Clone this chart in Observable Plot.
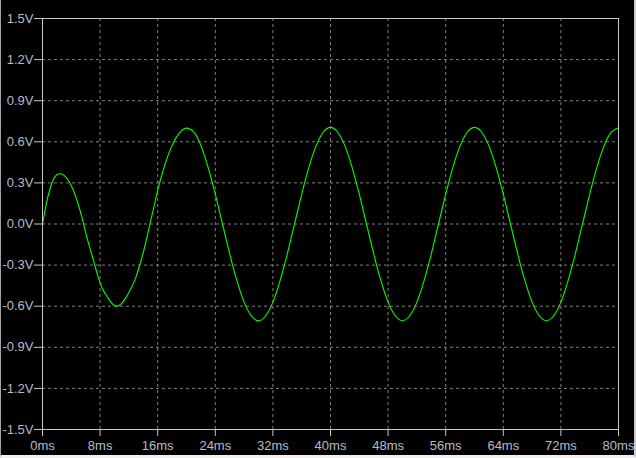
<!DOCTYPE html>
<html>
<head>
<meta charset="utf-8">
<script src="https://cdn.jsdelivr.net/npm/d3@7"></script>
<script src="https://cdn.jsdelivr.net/npm/@observablehq/plot@0.6"></script>
<style>
  html, body { margin: 0; padding: 0; background: #000; }
  #wrap { position: relative; width: 636px; height: 458px; overflow: hidden; }
  #edge { position: absolute; left: 0; top: 0; width: 636px; height: 458px; box-sizing: border-box;
          border-left: 1px solid #a0a0a0; border-right: 2px solid #c8c8c8; border-bottom: 3px solid #f0f0f0;
          pointer-events: none; }
</style>
</head>
<body>
<div id="wrap"><div id="edge"></div></div>
<script>
// time in ms
const timeMs = [0, 0.5, 1, 1.5, 2, 2.5, 3, 3.5, 4, 4.5, 5, 5.5, 6, 6.5, 7, 7.5, 8, 8.5, 9, 9.5, 10, 10.5, 11, 11.5, 12, 12.5, 13, 13.5, 14, 14.5, 15, 15.5, 16, 16.5, 17, 17.5, 18, 18.5, 19, 19.5, 20,
  21, 22, 23, 24, 25, 26, 27, 28, 29, 30, 31, 32, 33, 34, 35, 36, 37, 38, 39, 40,
  41, 42, 43, 44, 45, 46, 47, 48, 49, 50, 51, 52, 53, 54, 55, 56, 57, 58, 59, 60,
  61, 62, 63, 64, 65, 66, 67, 68, 69, 70, 71, 72, 73, 74, 75, 76, 77, 78, 79, 80];
// voltage in V
const volts = [0, 0.14, 0.25, 0.325, 0.36, 0.367, 0.355, 0.325, 0.28, 0.217, 0.137, 0.045, -0.064, -0.16, -0.25, -0.345, -0.43, -0.49, -0.531, -0.57, -0.595, -0.598, -0.58, -0.545, -0.50, -0.448, -0.384, -0.30, -0.208, -0.098, 0.017, 0.13, 0.247, 0.345, 0.433, 0.51, 0.574, 0.625, 0.664, 0.69, 0.70,
  0.672, 0.572, 0.414, 0.218, 0.0, -0.218, -0.414, -0.570, -0.670, -0.707, -0.670, -0.570, -0.414, -0.218, 0.0, 0.218, 0.414, 0.570, 0.670, 0.705,
  0.670, 0.570, 0.414, 0.218, 0.0, -0.218, -0.414, -0.570, -0.670, -0.706, -0.670, -0.570, -0.414, -0.218, 0.0, 0.218, 0.414, 0.570, 0.670, 0.705,
  0.670, 0.570, 0.414, 0.218, 0.0, -0.218, -0.414, -0.570, -0.670, -0.706, -0.670, -0.570, -0.414, -0.218, 0.0, 0.218, 0.414, 0.570, 0.670, 0.703];
const xTicks = [0, 8, 16, 24, 32, 40, 48, 56, 64, 72, 80];
const yTicks = [-1.5, -1.2, -0.9, -0.6, -0.3, 0, 0.3, 0.6, 0.9, 1.2, 1.5];
const xTickLabels = ["0ms", "8ms", "16ms", "24ms", "32ms", "40ms", "48ms", "56ms", "64ms", "72ms", "80ms"];
const yTickLabels = ["-1.5V", "-1.2V", "-0.9V", "-0.6V", "-0.3V", "0.0V", "0.3V", "0.6V", "0.9V", "1.2V", "1.5V"];

const data = timeMs.map((t, i) => ({t, v: volts[i]}));
const textColor = "#b4bccc";
const lineGray = "#c8c8c8";

const chart = Plot.plot({
  width: 636,
  height: 458,
  marginLeft: 42,
  marginTop: 18,
  marginRight: 18,
  marginBottom: 29,
  style: {background: "#000", fontFamily: "'Liberation Sans', Arial, sans-serif", fontSize: "13px"},
  x: {domain: [0, 80]},
  y: {domain: [-1.5, 1.5]},
  marks: [
    Plot.gridX(xTicks.slice(1, -1), {stroke: "#808080", strokeOpacity: 1, strokeDasharray: "3,3"}),
    Plot.gridY(yTicks.slice(1, -1), {stroke: "#808080", strokeOpacity: 1, strokeDasharray: "3,3"}),
    Plot.line(data, {x: "t", y: "v", stroke: "#00ff00", strokeWidth: 1.1, curve: "natural"}),
    Plot.frame({stroke: lineGray}),
    Plot.axisX(xTicks, {tickSize: 7, tickPadding: 4, stroke: lineGray, fill: textColor, label: null,
      tickFormat: (d) => xTickLabels[xTicks.indexOf(d)]}),
    Plot.axisY(yTicks, {tickSize: 8, tickPadding: 1, stroke: lineGray, fill: textColor, label: null,
      tickFormat: (d) => yTickLabels[yTicks.indexOf(d)]})
  ]
});
document.getElementById("wrap").insertBefore(chart, document.getElementById("edge"));
</script>
</body>
</html>
